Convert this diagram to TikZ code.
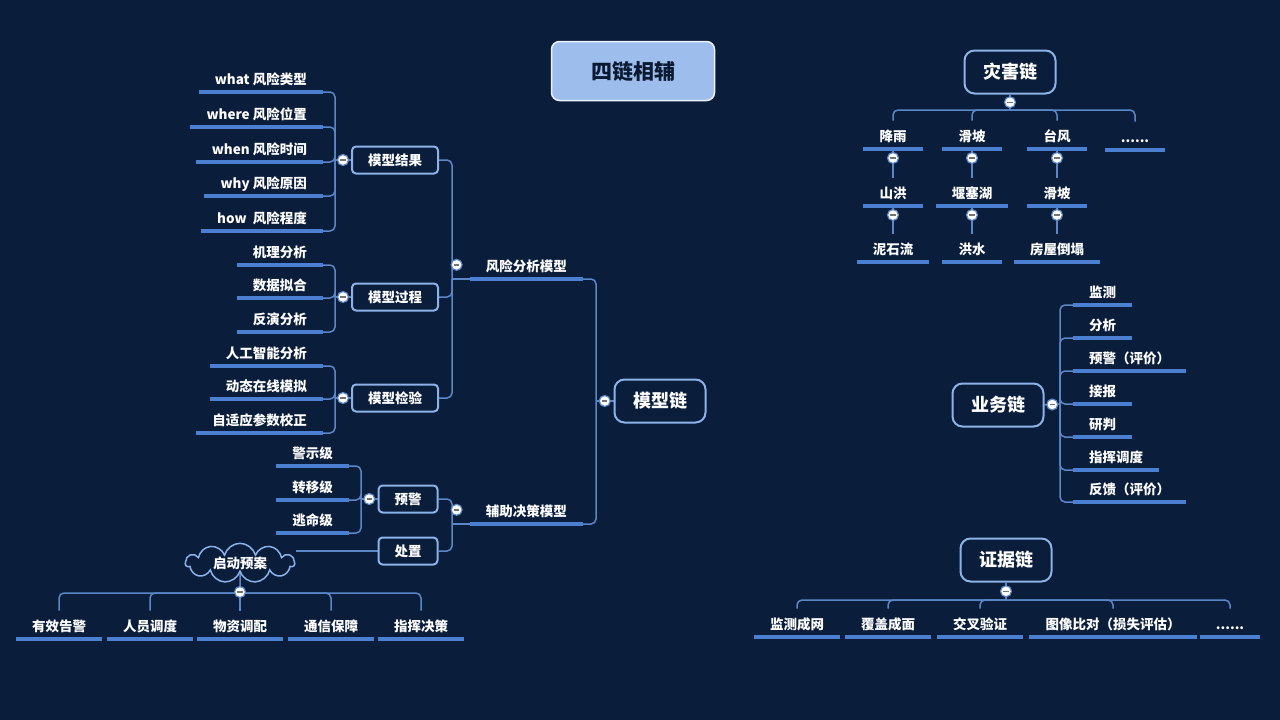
\documentclass[tikz,border=0pt]{standalone}
\usepackage{fontspec}
\newfontfamily\cjk{Noto Sans CJK SC}
\usetikzlibrary{positioning, shapes.symbols, backgrounds, calc}

\definecolor{navy}{HTML}{0A1D3B}
\definecolor{linkblue}{HTML}{5B87C7}
\definecolor{ulblue}{HTML}{4A7FD1}
\definecolor{edgeblue}{HTML}{8CB2E8}
\definecolor{titlefill}{HTML}{9DBEEC}
\definecolor{titletext}{HTML}{0B1A33}

\newcommand{\bodyfont}{\cjk\bfseries\fontsize{13.5}{16}\selectfont}

\begin{document}
\begin{tikzpicture}[
    x=1pt, y=-1pt,
    titlebox/.style={draw=white!80!titlefill, line width=1.5pt, fill=titlefill, rounded corners=8pt,
                     minimum width=163pt, minimum height=59pt, text=titletext,
                     font=\cjk\bfseries\fontsize{21}{24}\selectfont},
    chainbox/.style={draw=edgeblue, line width=2pt, fill=navy, rounded corners=10pt,
                     minimum width=91pt, minimum height=43pt, text=white,
                     font=\cjk\bfseries\fontsize{18}{21}\selectfont},
    midbox/.style={draw=edgeblue, line width=2pt, fill=navy, rounded corners=4pt,
                   minimum width=86pt, minimum height=27pt, text=white, font=\bodyfont},
    leaf/.style={inner xsep=16pt, inner ysep=0pt, minimum height=28pt, text height=13.5pt,
                 text depth=1pt, text=white, font=\bodyfont},
    cloudbox/.style={cloud, cloud puffs=11, aspect=3.2, draw=edgeblue, line width=1.5pt, fill=navy,
                     inner sep=0pt, minimum width=109pt, minimum height=38pt, text=white, font=\bodyfont},
    fold/.style={circle, draw=linkblue, line width=1.2pt, fill=white, minimum size=11pt, inner sep=0pt,
                 path picture={\draw[black!55, line width=1.5pt]
                   ([xshift=-2.6pt]path picture bounding box.center) -- ([xshift=2.6pt]path picture bounding box.center);}},
    link/.style={draw=linkblue, line width=1.5pt, rounded corners=5pt},
    uline/.style={draw=ulblue, line width=3.5pt},
]
\useasboundingbox (0,0) rectangle (1280,720);

% title
\node[titlebox] (sl) at (633,71) {四链相辅};

% model chain
\node[chainbox] (mx) at (660,401) {模型链};
\node[leaf, anchor=south east] (fx) at (583,279) {风险分析模型};
\node[leaf, anchor=south east] (fz) at (583,524) {辅助决策模型};

\node[midbox] (jg) at (395,160) {模型结果};
\node[midbox] (gc) at (395,297) {模型过程};
\node[midbox] (jy) at (395,398) {模型检验};
\node[midbox, minimum width=59pt] (yj) at (408,499) {预警};
\node[midbox, minimum width=59pt] (cz) at (408,551) {处置};

\node[leaf, anchor=south east] (jg1) at (323,92) {what 风险类型};
\node[leaf, anchor=south east] (jg2) at (323,127) {where 风险位置};
\node[leaf, anchor=south east] (jg3) at (323,162) {when 风险时间};
\node[leaf, anchor=south east] (jg4) at (323,196) {why 风险原因};
\node[leaf, anchor=south east] (jg5) at (323,231) {how\ \ 风险程度};

\node[leaf, anchor=south east] (gc1) at (323,265) {机理分析};
\node[leaf, anchor=south east] (gc2) at (323,298) {数据拟合};
\node[leaf, anchor=south east] (gc3) at (323,332) {反演分析};

\node[leaf, anchor=south east] (jy1) at (323,366) {人工智能分析};
\node[leaf, anchor=south east] (jy2) at (323,399) {动态在线模拟};
\node[leaf, anchor=south east] (jy3) at (323,433) {自适应参数校正};

\node[leaf, anchor=south east] (yj1) at (349,466) {警示级};
\node[leaf, anchor=south east] (yj2) at (349,500) {转移级};
\node[leaf, anchor=south east] (yj3) at (349,533) {逃命级};

\node[cloudbox] (qd) at (240,563) {启动预案};
\node[leaf, anchor=south] (qd1) at (59,639) {有效告警};
\node[leaf, anchor=south] (qd2) at (150,639) {人员调度};
\node[leaf, anchor=south] (qd3) at (240,639) {物资调配};
\node[leaf, anchor=south] (qd4) at (331,639) {通信保障};
\node[leaf, anchor=south] (qd5) at (421,639) {指挥决策};

% disaster chain
\node[chainbox] (zh) at (1010,72) {灾害链};
\node[leaf, anchor=south] (zh1) at (893,149) {降雨};
\node[leaf, anchor=south] (zh2) at (972,149) {滑坡};
\node[leaf, anchor=south] (zh3) at (1057,149) {台风};
\node[leaf, anchor=south] (zh4) at (1135,150) {......};
\node[leaf, anchor=south] (zh5) at (893,206) {山洪};
\node[leaf, anchor=south] (zh6) at (972,206) {堰塞湖};
\node[leaf, anchor=south] (zh7) at (1057,206) {滑坡};
\node[leaf, anchor=south] (zh8) at (893,262) {泥石流};
\node[leaf, anchor=south] (zh9) at (972,262) {洪水};
\node[leaf, anchor=south] (zh10) at (1057,262) {房屋倒塌};

% business chain
\node[chainbox] (yw) at (998,405) {业务链};
\node[leaf, anchor=south west] (yw1) at (1073,305) {监测};
\node[leaf, anchor=south west] (yw2) at (1073,338) {分析};
\node[leaf, anchor=south west] (yw3) at (1073,371) {预警（评价）};
\node[leaf, anchor=south west] (yw4) at (1073,404) {接报};
\node[leaf, anchor=south west] (yw5) at (1073,437) {研判};
\node[leaf, anchor=south west] (yw6) at (1073,470) {指挥调度};
\node[leaf, anchor=south west] (yw7) at (1073,502) {反馈（评价）};

% evidence chain
\node[chainbox] (zj) at (1006,560) {证据链};
\node[leaf, anchor=south] (zj1) at (797,637) {监测成网};
\node[leaf, anchor=south] (zj2) at (888,637) {覆盖成面};
\node[leaf, anchor=south] (zj3) at (980,637) {交叉验证};
\node[leaf, anchor=south] (zj4) at (1113,637) {图像比对（损失评估）};
\node[leaf, anchor=south] (zj5) at (1230,637) {......};

\foreach \n in {fx,fz,jg1,jg2,jg3,jg4,jg5,gc1,gc2,gc3,jy1,jy2,jy3,yj1,yj2,yj3,
                qd1,qd2,qd3,qd4,qd5,zh1,zh2,zh3,zh4,zh5,zh6,zh7,zh8,zh9,zh10,
                yw1,yw2,yw3,yw4,yw5,yw6,yw7,zj1,zj2,zj3,zj4,zj5}{
    \draw[uline] (\n.south west) -- (\n.south east);
}

\begin{scope}[on background layer]
    \fill[navy] (0,0) rectangle (1280,720);
    % left tree
    \coordinate (mxs) at (596,401);
    \draw[link] (mx.west) -- (mxs);
    \foreach \c in {fx,fz} \draw[link] (mxs) |- (\c.south east);
    \coordinate (fxs) at (452,279);
    \draw[link] (fx.south west) -- (fxs);
    \foreach \c in {jg,gc,jy} \draw[link] (fxs) |- (\c.east);
    \coordinate (fzs) at (452,524);
    \draw[link] (fz.south west) -- (fzs);
    \foreach \c in {yj,cz} \draw[link] (fzs) |- (\c.east);
    \coordinate (jgs) at (335,160);
    \draw[link] (jg.west) -- (jgs);
    \foreach \c in {jg1,jg2,jg3,jg4,jg5} \draw[link] (jgs) |- (\c.south east);
    \coordinate (gcs) at (335,297);
    \draw[link] (gc.west) -- (gcs);
    \foreach \c in {gc1,gc2,gc3} \draw[link] (gcs) |- (\c.south east);
    \coordinate (jys) at (335,398);
    \draw[link] (jy.west) -- (jys);
    \foreach \c in {jy1,jy2,jy3} \draw[link] (jys) |- (\c.south east);
    \coordinate (yjs) at (361,499);
    \draw[link] (yj.west) -- (yjs);
    \foreach \c in {yj1,yj2,yj3} \draw[link] (yjs) |- (\c.south east);
    \draw[link] (cz.west) -- (cz.west -| qd.east);
    \coordinate (qds) at (240,593);
    \draw[link] (qd.south) -- (qds);
    \foreach \c in {qd1,qd2,qd3,qd4,qd5} \draw[link] (qds) -| (\c.north);
    % right trees
    \coordinate (zhs) at (1010,110);
    \draw[link] (zh.south) -- (zhs);
    \foreach \c in {zh1,zh2,zh3,zh4} \draw[link] (zhs) -| (\c.north);
    \foreach \a/\b in {zh1/zh5, zh2/zh6, zh3/zh7, zh5/zh8, zh6/zh9, zh7/zh10}
        \draw[link] (\a.south) -- (\b.north);
    \coordinate (yws) at (1060,404);
    \draw[link] (yw.east) -- (yws);
    \foreach \c in {yw1,yw2,yw3,yw4,yw5,yw6,yw7} \draw[link] (yws) |- (\c.south west);
    \coordinate (zjs) at (1006,600);
    \draw[link] (zj.south) -- (zjs);
    \foreach \c in {zj1,zj2,zj3,zj4,zj5} \draw[link] (zjs) -| (\c.north);
\end{scope}

% fold buttons
\node[fold] (f0) at ($(mx.west)!0.5!(mxs)$) {};
\node[fold] (f1) at ($(fx.west)+(-13,0)$) {};
\node[fold] (f2) at ($(fz.west)+(-13,0)$) {};
\node[fold] (f3) at ($(jg.west)!0.5!(jgs)$) {};
\node[fold] (f4) at ($(gc.west)!0.5!(gcs)$) {};
\node[fold] (f5) at ($(jy.west)!0.5!(jys)$) {};
\node[fold] (f6) at ($(yj.west)!0.5!(yjs)$) {};
\node[fold] (f7) at (240,592) {};
\node[fold] (f8) at ($(zh.south)!0.5!(zhs)$) {};
\foreach \c in {zh1,zh2,zh3,zh5,zh6,zh7}
    \node[fold] (f\c) at ($(\c.south)+(0,9)$) {};
\node[fold] (f9) at ($(yw.east)!0.5!(yws)$) {};
\node[fold] (f10) at ($(zj.south)!0.5!(zjs)$) {};

\end{tikzpicture}
\end{document}
